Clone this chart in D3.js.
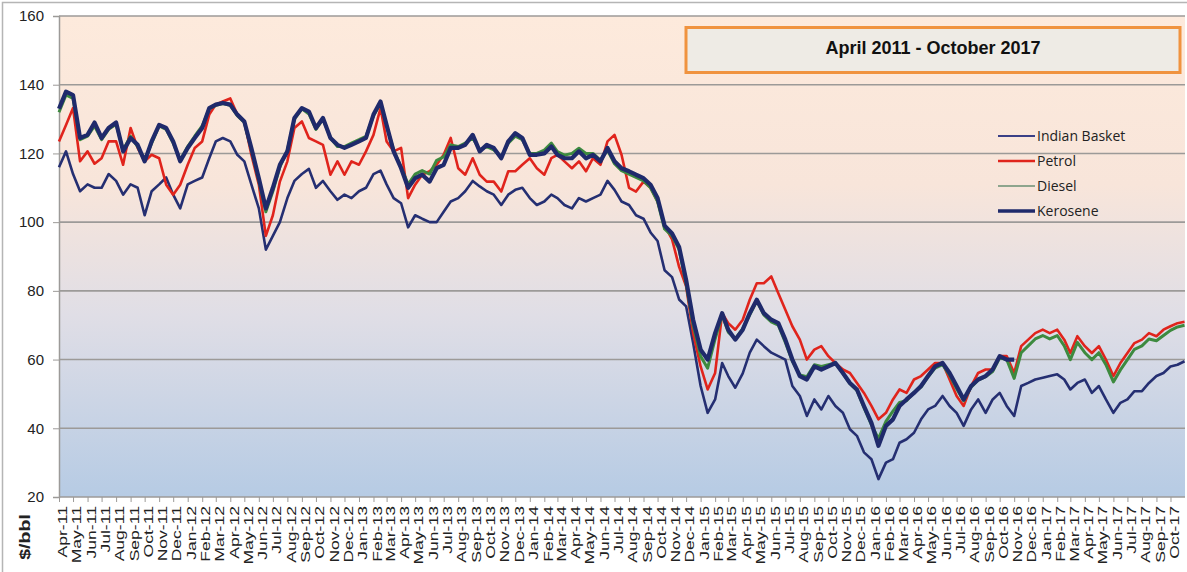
<!DOCTYPE html>
<html>
<head>
<meta charset="utf-8">
<script src="https://cdn.jsdelivr.net/npm/d3@7"></script>
<style>
html,body{margin:0;padding:0;background:#fff;}
svg{display:block;}
</style>
</head>
<body>
<svg id="chart" width="1187" height="572"></svg>
<script>
// ---------------- DATA ----------------
const title = "April 2011 - October 2017";
const yTicks = [20, 40, 60, 80, 100, 120, 140, 160];
const yUnit = "$/bbl";
const seriesNames = ["Indian Basket", "Petrol", "Diesel", "Kerosene"];

// observations: 1st and 16th of every month, Apr 2011 .. Oct 2017, then 31 Oct 2017
const indianBasket = [
  116,120.6, 114,109, 111,110, 110,114, 112,108, 111,110, 102,109, 111,113, 108,104,
  111,112, 113,118.6, 123.5,124.5, 123.5,119.6, 117.7,111, 104,92, 96,100, 107,112, 114,115.5, 110,112, 109,106.5, 108,107,
  109,110, 114,115, 111,107, 105.5,98.5, 102,101, 100,100, 103,106, 107,109, 112,110.4, 109,108, 105,108, 109.4,110,
  107,105, 106,108, 107,105, 104,107, 106,107, 108,112, 109.4,106, 105,102, 101,97, 94.5,86, 84,77.5, 75.5,64.8,
  52.3,44.5, 48.4,59, 55.2,51.8, 56,62, 65.8,63.9, 62,61, 60,52.3, 49.4,43.6, 48.4,45.5, 49.4,46.5, 44.5,39.7, 37.8,33,
  31,25.2, 30,31, 35.8,36.8, 38.7,42.6, 45.5,46.5, 49.4,46.5, 44.5,40.7, 45.5,48.4, 44.5,48.4, 50.3,46.5, 43.6,52.3, 53.2,54.2,
  54.7,55.2, 55.7,54.2, 51.3,53.2, 54.2,50.3, 52.3,48.4, 44.5,47.4, 48.4,50.8, 50.8,53.2, 55.2,56.1, 58,58.5,
  59.5
];
const petrol = [
  123.5,128.3, 133.2,117.7, 120.6,117, 118.6,123.5, 123.5,116.7, 127.4,121.6, 117.7,119.6, 118.6,110.9, 108,110.9,
  116.7,121.6, 123.5,131.3, 134.2,135.1, 136,131.3, 129.3,119.6, 110.9,96, 102,111.8, 117.7,127.4, 129.3,124.5, 123.5,122.5, 113.8,117.7, 113.8,117.7,
  116.7,120.6, 125.4,133.2, 123.5,120.6, 121.6,107, 110.9,113.8, 114.8,116.7, 119.6,124.5, 115.7,113.8, 118.6,113.8, 111.8,111.8, 108.9,114.8, 114.8,116.7,
  118.6,115.7, 113.8,118.6, 119.6,117.7, 115.7,117.7, 114.8,118.6, 116.7,123.5, 125.4,119.6, 110,108.9, 111.8,110, 106,99, 95,87, 81.3,67.7,
  58,51.3, 56.1,73.5, 70.6,68.7, 71.6,77.4, 82.2,82.2, 84.2,79.3, 74.5,69.7, 65.8,60, 62.9,63.9, 61,59, 57.1,56.1, 53.2,50.3,
  46.5,42.6, 44.5,48.4, 51.3,50.3, 54.2,55.2, 57.1,59, 59,54.2, 49.4,46.5, 52.3,56.1, 57.1,57.1, 61,61, 56.1,63.9, 65.8,67.7,
  68.7,67.7, 68.7,65.8, 61.9,66.8, 63.9,61.9, 63.9,60, 55.2,59, 61.9,64.8, 65.8,67.7, 66.8,68.7, 69.7,70.6,
  71
];
const diesel = [
  132,137, 136,124, 125,128, 124,127, 128.5,121, 125,122, 118,123, 128,127, 123,118,
  122,125, 128,133, 134,134.5, 134,131, 129,121, 112,103, 109,116, 121,130, 133,131.5, 127,130, 124.5,122, 122,123,
  124,125, 131,134.5, 128,121, 116,111, 114,115, 114,118, 119,122.5, 122,123, 124.5,121, 122,121, 119,123, 125,124,
  120,120, 121,123, 120.5,119.5, 120,121.5, 120,120, 118,121, 117,115, 114,113, 112,110, 106,98, 96,92, 82,70,
  61,57.5, 66,73, 68,66, 69,73, 77,73, 71,70, 65,59.5, 55.5,55, 58.5,58, 58.5,59, 56,53, 51,46,
  41,37, 42,45, 47.5,48, 50.5,52, 55,57.5, 58.5,55.5, 51.5,48, 52,54, 55,56.5, 60.5,60, 54.5,62, 64,66,
  67,66, 67,64, 60,65, 62,60, 62,58.5, 53.5,57, 60,63, 64,66, 65.5,67, 68.5,69.5,
  70
];
const kerosene = [
  133,138, 137,124.5, 125.4,129, 124.5,127.4, 129,120.6, 124.5,122.5, 117.7,123.5, 128.3,127.4, 123.5,117.7,
  121.6,124.5, 127.4,133.2, 134.2,134.7, 134.2,131.3, 129.3,121.6, 112.8,104, 110,116.7, 120.6,130.3, 133.2,132.2, 127.4,130.3, 124.5,122.5, 121.6,122.5,
  123.5,124.5, 131.3,135.1, 128.3,120.6, 115.7,110, 112.8,113.8, 111.8,115.7, 116.7,121.6, 121.6,122.5, 125.4,120.6, 122.5,121.6, 118.6,123.5, 125.9,124.5,
  119.6,119.6, 120,122, 119.6,118.6, 118.6,120.6, 118.6,119.6, 117.7,121.6, 117.7,115.7, 114.8,113.8, 112.8,110.9, 107,99, 96.7,92.8, 83.2,71.6,
  62.9,60, 67.7,73.5, 68.7,65.8, 68.7,73.5, 77.4,73.5, 71.6,70.6, 65.8,60, 55.2,54.2, 58,57.1, 58,59, 56.1,53.2, 51.3,46.5,
  41.6,34.9, 40.7,42.6, 46.5,48.4, 50.3,52.3, 55.2,58, 59,56.1, 52.3,48.4, 52.3,54.2, 55.2,57.1, 61,60,
  60
];

// ---------------- LAYOUT ----------------
const svg = d3.select("#chart");
const L = 59, R = 1185, T = 16, B = 497;

const start = new Date(2011, 3, 1), end = new Date(2017, 10, 1);
const months = d3.timeMonth.range(start, end);            // tick categories Apr-11 .. Oct-17
const dates = [];
months.forEach(m => { dates.push(m); dates.push(new Date(m.getFullYear(), m.getMonth(), 16)); });
dates.push(new Date(2017, 9, 31));

const x = d3.scaleTime().domain([start, end]).range([L, R]);
const y = d3.scaleLinear().domain([20, 160]).range([B, T]);

// outer frame
svg.append("rect").attr("x", 2.5).attr("y", 2.5).attr("width", 1200).attr("height", 600)
  .attr("fill", "#fff").attr("stroke", "#b5b5b5").attr("stroke-width", 1.5);

// gradient background
const defs = svg.append("defs");
const g = defs.append("linearGradient").attr("id", "bg").attr("x1", 0).attr("x2", 0).attr("y1", 0).attr("y2", 1);
[[0, "#fdeadc"], [0.35, "#f8e5da"], [0.62, "#e0dee6"], [1, "#b6cbe4"]].forEach(s =>
  g.append("stop").attr("offset", s[0]).attr("stop-color", s[1]));
svg.append("rect").attr("x", L).attr("y", T).attr("width", R - L).attr("height", B - T).attr("fill", "url(#bg)");

// gridlines
svg.append("g").selectAll("line").data(yTicks).join("line")
  .attr("x1", L).attr("x2", R).attr("y1", d => y(d)).attr("y2", d => y(d))
  .attr("stroke", "#9c9a98").attr("stroke-width", 1.6);

// y axis
const yAxis = svg.append("g").attr("transform", `translate(${L},0)`)
  .call(d3.axisLeft(y).tickValues(yTicks).tickSize(6).tickPadding(9));
yAxis.select(".domain").attr("stroke", "#9c9a98").attr("stroke-width", 1.5);
yAxis.selectAll(".tick line").attr("stroke", "#9c9a98");
yAxis.selectAll("text").attr("font-family", "'Liberation Sans', Arial, sans-serif")
  .attr("font-size", 15).attr("fill", "#222");

// x axis
const xAxis = svg.append("g").attr("transform", `translate(0,${B})`)
  .call(d3.axisBottom(x).tickValues(months).tickSize(5).tickFormat(d3.timeFormat("%b-%y")));
xAxis.select(".domain").remove();
xAxis.selectAll(".tick line").attr("stroke", "#9c9a98");
xAxis.selectAll("text")
  .attr("font-family", "'Liberation Sans', Arial, sans-serif").attr("font-size", 13.5).attr("fill", "#222")
  .attr("text-anchor", "end").attr("x", -7).attr("y", 3).attr("dy", "0.35em")
  .attr("transform", "rotate(-90) scale(1.3,1)");

// unit label
svg.append("text").attr("transform", "translate(25,537) rotate(-90) scale(1.35,1)")
  .attr("text-anchor", "middle").attr("dy", "0.35em")
  .attr("font-family", "'Liberation Sans', Arial, sans-serif").attr("font-weight", "bold")
  .attr("font-size", 14.5).attr("fill", "#222").text(yUnit);

// lines
const line = d3.line().x((d, i) => x(dates[i])).y(d => y(d));
const styles = [
  {data: indianBasket, color: "#252f72", width: 2.6},
  {data: petrol, color: "#e0241c", width: 2.6},
  {data: diesel, color: "#3d8a3f", width: 3},
  {data: kerosene, color: "#1f2a6b", width: 4.2}
];
svg.append("g").selectAll("path").data(styles).join("path")
  .attr("d", s => line(s.data)).attr("fill", "none")
  .attr("stroke", s => s.color).attr("stroke-width", s => s.width)
  .attr("stroke-linejoin", "round");

// title box
svg.append("rect").attr("x", 686).attr("y", 27.5).attr("width", 494).attr("height", 45)
  .attr("fill", "#eeebe5").attr("stroke", "#f0933f").attr("stroke-width", 3);
svg.append("text").attr("x", 933).attr("y", 48).attr("dy", "0.35em").attr("text-anchor", "middle")
  .attr("font-family", "'Liberation Sans', Arial, sans-serif").attr("font-weight", "bold")
  .attr("font-size", 18).attr("fill", "#111").text(title);

// legend
const legendStyles = [
  {color: "#3a3f86", width: 2},
  {color: "#e0241c", width: 2.4},
  {color: "#8ea58d", width: 2},
  {color: "#1f2a6b", width: 3.4}
];
const lg = svg.append("g").selectAll("g").data(seriesNames).join("g")
  .attr("transform", (d, i) => `translate(998,${136 + i * 25})`);
lg.append("line").attr("x1", 0).attr("x2", 37).attr("y1", 0).attr("y2", 0)
  .attr("stroke", (d, i) => legendStyles[i].color).attr("stroke-width", (d, i) => legendStyles[i].width);
lg.append("text").attr("x", 39).attr("dy", "0.35em")
  .attr("font-family", "'Open Sans', sans-serif").attr("font-size", 14).attr("fill", "#222").text(d => d);
</script>
</body>
</html>
